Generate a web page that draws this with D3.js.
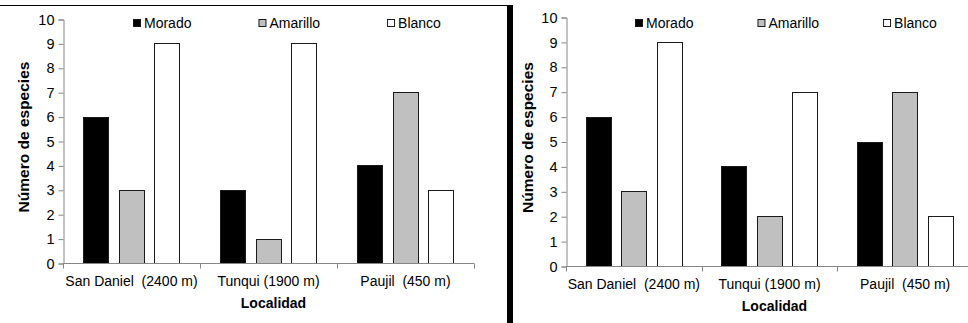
<!DOCTYPE html>
<meta charset="utf-8">
<title>Especies por localidad</title>
<script src="https://d3js.org/d3.v7.min.js"></script>
<style>
  body { margin: 0; background: #fff; }
  svg { display: block; font-family: "Liberation Sans", Arial, sans-serif; }
  .tick text { white-space: pre; }
</style>
<body>
<div id="chart"></div>
<script>
// categories and series
var localidades = ["San Daniel  (2400 m)", "Tunqui (1900 m)", "Paujil  (450 m)"];
var series = ["Morado", "Amarillo", "Blanco"];
var yTicks = [0, 1, 2, 3, 4, 5, 6, 7, 8, 9, 10];

// left panel values
var moradoA = [6, 3, 4];
var amarilloA = [3, 1, 7];
var blancoA = [9, 9, 3];

// right panel values
var moradoB = [6, 4, 5];
var amarilloB = [3, 2, 7];
var blancoB = [9, 7, 2];

var fills = { Morado: "#000000", Amarillo: "#c0c0c0", Blanco: "#ffffff" };

var W = 968, H = 323;
var svg = d3.select("#chart").append("svg")
    .attr("width", W)
    .attr("height", H);

// frame of left chart + separator bar
svg.append("line")
    .attr("x1", 0).attr("x2", 507)
    .attr("y1", 5.5).attr("y2", 5.5)
    .attr("stroke", "#000").attr("stroke-width", 1);
svg.append("rect")
    .attr("x", 507).attr("y", 5)
    .attr("width", 6).attr("height", H - 5)
    .attr("fill", "#000");

function drawPanel(p) {
  var x = d3.scaleBand()
      .domain(localidades)
      .range([p.left, p.right]);

  var xs = d3.scaleBand()
      .domain(series)
      .range([0, x.bandwidth()])
      .paddingInner(0.28)
      .paddingOuter(0.55);

  var y = d3.scaleLinear()
      .domain([0, 10])
      .range([p.bottom, p.top]);

  var rows = [];
  localidades.forEach(function(loc, i) {
    series.forEach(function(s) {
      rows.push({ loc: loc, serie: s, value: p.values[s][i] });
    });
  });

  var g = svg.append("g");

  // bars
  g.selectAll("rect.bar")
    .data(rows)
    .join("rect")
      .attr("class", "bar")
      .attr("x", function(d) { return Math.round(x(d.loc) + xs(d.serie)) + 0.5; })
      .attr("y", function(d) { return Math.round(y(d.value)) + 0.5; })
      .attr("width", Math.round(xs.bandwidth()) - 1)
      .attr("height", function(d) { return Math.round(y(0)) - Math.round(y(d.value)); })
      .attr("fill", function(d) { return fills[d.serie]; })
      .attr("stroke", "#1a1a1a")
      .attr("stroke-width", 1);

  // y axis
  var ya = g.append("g")
      .attr("transform", "translate(" + (p.left + 0.5) + ",0.5)")
      .call(d3.axisLeft(y).tickValues(yTicks).tickSize(5).tickPadding(4).tickFormat(d3.format("d")));
  ya.select(".domain").attr("stroke", "#868686");
  ya.selectAll(".tick line").attr("stroke", "#868686");
  ya.selectAll(".tick text")
      .attr("font-size", 14.5)
      .attr("font-family", "Liberation Sans, Arial, sans-serif")
      .attr("fill", "#000");

  // x axis, ticks between categories
  var edges = localidades.map(function(d) { return x(d); }).concat([p.right]);
  var xa = g.append("g")
      .attr("transform", "translate(0," + (Math.round(y(0)) + 0.5) + ")");
  xa.append("line")
      .attr("x1", p.left).attr("x2", p.right)
      .attr("stroke", "#868686");
  xa.selectAll("line.tk")
    .data(edges)
    .join("line")
      .attr("class", "tk")
      .attr("x1", function(d) { return Math.round(d) + 0.5; })
      .attr("x2", function(d) { return Math.round(d) + 0.5; })
      .attr("y1", 0).attr("y2", 5)
      .attr("stroke", "#868686");
  xa.selectAll("text")
    .data(localidades)
    .join("text")
      .attr("x", function(d) { return x(d) + x.bandwidth() / 2; })
      .attr("y", 22)
      .attr("text-anchor", "middle")
      .attr("font-size", 14)
      .attr("fill", "#000")
      .style("white-space", "pre")
      .text(function(d) { return d; });

  // axis titles
  g.append("text")
      .attr("transform", "translate(" + p.yTitleX + "," + ((p.top + p.bottom) / 2 - 4) + ") rotate(-90)")
      .attr("text-anchor", "middle")
      .attr("font-size", 15.5)
      .attr("font-weight", "bold")
      .attr("fill", "#000")
      .text("Número de especies");

  g.append("text")
      .attr("x", (p.left + p.right) / 2 + 5)
      .attr("y", p.bottom + 45)
      .attr("text-anchor", "middle")
      .attr("font-size", 14)
      .attr("font-weight", "bold")
      .attr("fill", "#000")
      .text("Localidad");

  // legend
  var lx = p.left + p.legendOffset;
  series.forEach(function(s) {
    var item = g.append("g").attr("transform", "translate(" + lx + "," + p.legendY + ")");
    item.append("rect")
        .attr("x", 0.5).attr("y", -3.5)
        .attr("width", 7).attr("height", 7)
        .attr("fill", fills[s])
        .attr("stroke", "#1a1a1a");
    var t = item.append("text")
        .attr("x", 11)
        .attr("y", 5)
        .attr("font-size", 14)
        .attr("fill", "#000")
        .text(s);
    lx += 11 + t.node().getComputedTextLength() + p.legendGap;
  });
}

drawPanel({
  left: 63, right: 474, top: 19, bottom: 263,
  yTitleX: 29, legendOffset: 70, legendY: 23, legendGap: 67,
  values: { Morado: moradoA, Amarillo: amarilloA, Blanco: blancoA }
});

drawPanel({
  left: 566, right: 973, top: 17, bottom: 266,
  yTitleX: 533, legendOffset: 69, legendY: 23, legendGap: 64,
  values: { Morado: moradoB, Amarillo: amarilloB, Blanco: blancoB }
});
</script>
</body>
